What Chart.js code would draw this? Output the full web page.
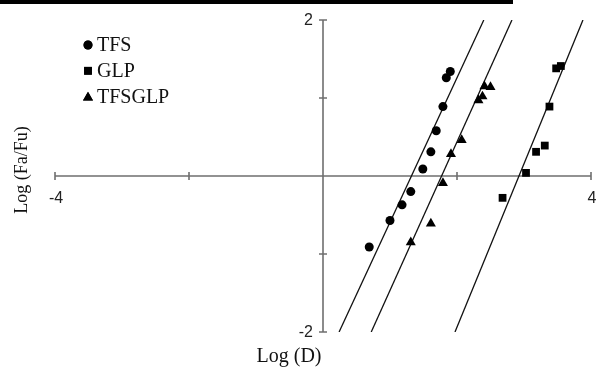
<!DOCTYPE html>
<html>
<head>
<meta charset="utf-8">
<script src="https://cdn.jsdelivr.net/npm/chart.js@4/dist/chart.umd.min.js"></script>
<style>
  html, body { margin: 0; padding: 0; background: #fff; }
  #wrap { position: relative; width: 597px; height: 372px; overflow: hidden; }
  #topbar { position: absolute; left: 0; top: 0; width: 513px; height: 4px; background: #000; }
  canvas { position: absolute; left: 0; top: 0; }
</style>
</head>
<body>
<div id="wrap">
  <canvas id="c" width="597" height="372"></canvas>
  <div id="topbar"></div>
</div>
<script>
// Log (Fa/Fu) against Log (D) for the three formulations
const tfsX = [1.90, 1.84, 1.79, 1.69, 1.61, 1.49, 1.31, 1.18, 1.00, 0.69];
const tfsY = [1.34, 1.26, 0.89, 0.58, 0.31, 0.09, -0.20, -0.37, -0.57, -0.91];

const glpX = [3.55, 3.48, 3.38, 3.31, 3.18, 3.03, 2.68];
const glpY = [1.41, 1.38, 0.89, 0.39, 0.31, 0.04, -0.28];

const tfsglpX = [2.50, 2.41, 2.38, 2.32, 2.07, 1.91, 1.79, 1.61, 1.31];
const tfsglpY = [1.14, 1.15, 1.02, 0.97, 0.46, 0.28, -0.09, -0.61, -0.85];

// fitted straight lines, drawn between Log (Fa/Fu) = -2 and 2
const fitY = [-2, 2];
const tfsFitX = [0.24, 2.40];
const tfsglpFitX = [0.72, 2.82];
const glpFitX = [1.97, 3.88];

// axis ranges and labelled ticks
const xRange = [-4, 4];
const yRange = [-2, 2];
const xTicks = [-4, -2, 2, 4];
const yTicks = [-2, -1, 1, 2];
const xTickLabels = ['-4', '4'];
const yTickLabels = ['-2', '2'];

const xTitle = 'Log (D)';
const yTitle = 'Log (Fa/Fu)';

const pts = (xs, ys) => xs.map((x, i) => ({ x: x, y: ys[i] }));

const serif = '"Liberation Serif", "Times New Roman", serif';
const sans = '"Liberation Sans", Arial, sans-serif';
const axisColor = '#6f6f6f';

const markerDs = (label, xs, ys, style, r) => ({
  label: label,
  data: pts(xs, ys),
  pointStyle: style,
  pointRadius: r,
  pointHoverRadius: r,
  backgroundColor: '#000',
  borderColor: '#000',
  borderWidth: 0,
  showLine: false,
  inLegend: true
});

const fitDs = (xs) => ({
  data: pts(xs, fitY),
  showLine: true,
  borderColor: '#111',
  borderWidth: 1.3,
  pointRadius: 0,
  pointHoverRadius: 0,
  fill: false,
  inLegend: false
});

const axesPlugin = {
  id: 'crossAxes',
  beforeDatasetsDraw(chart) {
    const ctx = chart.ctx;
    const xs = chart.scales.x, ys = chart.scales.y;
    const x0 = xs.getPixelForValue(0), y0 = ys.getPixelForValue(0);
    const tick = 4;
    ctx.save();
    ctx.strokeStyle = axisColor;
    ctx.lineWidth = 1.6;
    ctx.beginPath();
    ctx.moveTo(xs.getPixelForValue(xRange[0]), y0);
    ctx.lineTo(xs.getPixelForValue(xRange[1]), y0);
    ctx.moveTo(x0, ys.getPixelForValue(yRange[0]));
    ctx.lineTo(x0, ys.getPixelForValue(yRange[1]));
    xTicks.forEach(v => {
      const px = xs.getPixelForValue(v);
      ctx.moveTo(px, y0 - tick);
      ctx.lineTo(px, y0 + tick);
    });
    yTicks.forEach(v => {
      const py = ys.getPixelForValue(v);
      ctx.moveTo(x0 - tick, py);
      ctx.lineTo(x0 + tick, py);
    });
    ctx.stroke();

    // tick labels at the ends of each axis
    ctx.fillStyle = '#222';
    ctx.font = '16px ' + sans;
    ctx.textAlign = 'center';
    ctx.textBaseline = 'top';
    [xRange[0], xRange[1]].forEach((v, i) => {
      ctx.fillText(xTickLabels[i], xs.getPixelForValue(v) + 1, y0 + 15);
    });
    ctx.textAlign = 'right';
    ctx.textBaseline = 'middle';
    [yRange[0], yRange[1]].forEach((v, i) => {
      ctx.fillText(yTickLabels[i], x0 - 10, ys.getPixelForValue(v) + 1);
    });
    ctx.restore();
  },
  afterDraw(chart) {
    const ctx = chart.ctx;
    ctx.save();
    ctx.fillStyle = '#111';

    // axis titles
    ctx.font = '20px ' + serif;
    ctx.textAlign = 'center';
    ctx.textBaseline = 'middle';
    ctx.fillText(xTitle, 289, 357);
    ctx.save();
    ctx.translate(22, 170);
    ctx.rotate(-Math.PI / 2);
    ctx.font = '18px ' + serif;
    ctx.fillText(yTitle, 0, 0);
    ctx.restore();

    // legend
    const items = chart.data.datasets.filter(d => d.inLegend);
    ctx.font = '20px ' + serif;
    ctx.textAlign = 'left';
    ctx.textBaseline = 'middle';
    items.forEach((d, i) => {
      const y = 45 + i * 25.8;
      ctx.fillStyle = '#000';
      ctx.strokeStyle = '#000';
      Chart.helpers.drawPoint(ctx, { pointStyle: d.pointStyle, radius: d.pointRadius, borderWidth: 0, rotation: 0 }, 88, y + (d.pointStyle === 'triangle' ? 1 : 0));
      ctx.fill();
      ctx.fillStyle = '#111';
      ctx.fillText(d.label, 97, y + 1);
    });
    ctx.restore();
  }
};

new Chart(document.getElementById('c'), {
  type: 'scatter',
  data: {
    datasets: [
      markerDs('TFS', tfsX, tfsY, 'circle', 4.5),
      markerDs('GLP', glpX, glpY, 'rect', 5.5),
      markerDs('TFSGLP', tfsglpX, tfsglpY, 'triangle', 5.8),
      fitDs(tfsFitX),
      fitDs(tfsglpFitX),
      fitDs(glpFitX)
    ]
  },
  options: {
    responsive: false,
    animation: false,
    devicePixelRatio: 1,
    layout: { padding: { left: 55, right: 6, top: 20, bottom: 40 } },
    scales: {
      x: { type: 'linear', min: xRange[0], max: xRange[1], display: false },
      y: { type: 'linear', min: yRange[0], max: yRange[1], display: false }
    },
    plugins: {
      legend: { display: false },
      tooltip: { enabled: false }
    },
    elements: { line: { tension: 0 } }
  },
  plugins: [axesPlugin]
});
</script>
</body>
</html>
